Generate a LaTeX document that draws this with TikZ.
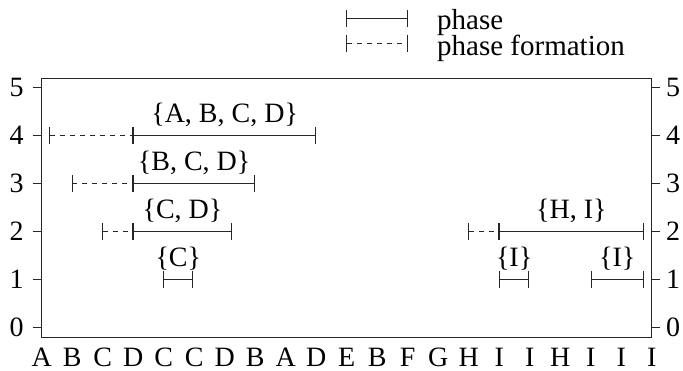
\documentclass[tikz,border=0pt]{standalone}
\usepackage{fontspec}
\setmainfont{Liberation Serif}
\usetikzlibrary{arrows.meta,calc}
\begin{document}
\begin{tikzpicture}[x=1pt,y=-1pt,
  every node/.style={font=\fontsize{28}{32}\selectfont, inner sep=0pt, text=black},
  axisline/.style={line width=1pt, draw=black!85},
  phaseseg/.style={line width=1pt, draw=black!85, {Bar[width=17pt,line width=1pt]}-{Bar[width=17pt,line width=1pt]}},
  formseg/.style={line width=1pt, draw=black!85, dash pattern=on 5pt off 5pt, {Bar[width=17pt,line width=1pt]}-{Bar[width=17pt,line width=1pt]}},
  setlabel/.style={anchor=base},
  legendtext/.style={anchor=base west, font=\fontsize{29}{33}\selectfont},
  ticklabel/.style={anchor=center}]
\useasboundingbox (0,0) rectangle (683,370);
% frame
\coordinate (bl) at (41.7,337.3);
\coordinate (tr) at (651.7,78.3);
\draw[axisline] (bl) rectangle (tr);
% y ticks and labels
\foreach \k in {0,...,5}{
  \pgfmathsetmacro{\yy}{327.7-48.08*\k}
  \draw[axisline] (33.3,\yy) -- (41.7,\yy);
  \draw[axisline] (651.7,\yy) -- (660.1,\yy);
  \node[ticklabel] (yl\k) at (16.7,\yy) {\k};
  \node[ticklabel] (yr\k) at (673,\yy) {\k};
}
% x labels
\foreach \l [count=\i from 0] in {A,B,C,D,C,C,D,B,A,D,E,B,F,G,H,I,I,H,I,I,I}{
  \node[anchor=base] (xl\i) at ({41.7+30.5*\i},366.5) {\l};
}
% level y values
\def\yA{135.4}\def\yB{183.5}\def\yC{231.5}\def\yD{279.6}
% level 4
\coordinate (a0) at (49,\yA); \coordinate (a1) at (133.3,\yA); \coordinate (a2) at (316,\yA);
\draw[formseg] (a0) -- (a1);
\draw[phaseseg] (a1) -- (a2);
\node[setlabel] (la) at ($(a1)!0.5!(a2)+(0,-13)$) {\{A, B, C, D\}};
% level 3
\coordinate (b0) at (71.7,\yB); \coordinate (b1) at (133.3,\yB); \coordinate (b2) at (255,\yB);
\draw[formseg] (b0) -- (b1);
\draw[phaseseg] (b1) -- (b2);
\node[setlabel] (lb) at ($(b1)!0.5!(b2)+(0,-13)$) {\{B, C, D\}};
% level 2 left
\coordinate (c0) at (102.3,\yC); \coordinate (c1) at (133.3,\yC); \coordinate (c2) at (231.7,\yC);
\draw[formseg] (c0) -- (c1);
\draw[phaseseg] (c1) -- (c2);
\node[setlabel] (lc) at ($(c1)!0.5!(c2)+(0,-13)$) {\{C, D\}};
% level 1 left
\coordinate (d1) at (163.3,\yD); \coordinate (d2) at (193.3,\yD);
\draw[phaseseg] (d1) -- (d2);
\node[setlabel] (ld) at ($(d1)!0.5!(d2)+(0,-13)$) {\{C\}};
% level 2 right
\coordinate (e0) at (468.3,\yC); \coordinate (e1) at (499,\yC); \coordinate (e2) at (643.7,\yC);
\draw[formseg] (e0) -- (e1);
\draw[phaseseg] (e1) -- (e2);
\node[setlabel] (le) at ($(e1)!0.5!(e2)+(0,-13)$) {\{H, I\}};
% level 1 right
\coordinate (f1) at (499,\yD); \coordinate (f2) at (529.3,\yD);
\draw[phaseseg] (f1) -- (f2);
\node[setlabel] (lf) at ($(f1)!0.5!(f2)+(0,-13)$) {\{I\}};
\coordinate (g1) at (590.7,\yD); \coordinate (g2) at (643.7,\yD);
\draw[phaseseg] (g1) -- (g2);
\node[setlabel] (lg) at ($(g1)!0.5!(g2)+(0,-13)$) {\{I\}};
% legend
\coordinate (p0) at (346,18); \coordinate (p1) at (407.7,18);
\coordinate (q0) at (346,43); \coordinate (q1) at (407.7,43);
\draw[phaseseg] (p0) -- (p1);
\draw[formseg] (q0) -- (q1);
\node[legendtext] (lp) at (437,29) {phase};
\node[legendtext] (lq) at (437,55) {phase formation};
\end{tikzpicture}
\end{document}
